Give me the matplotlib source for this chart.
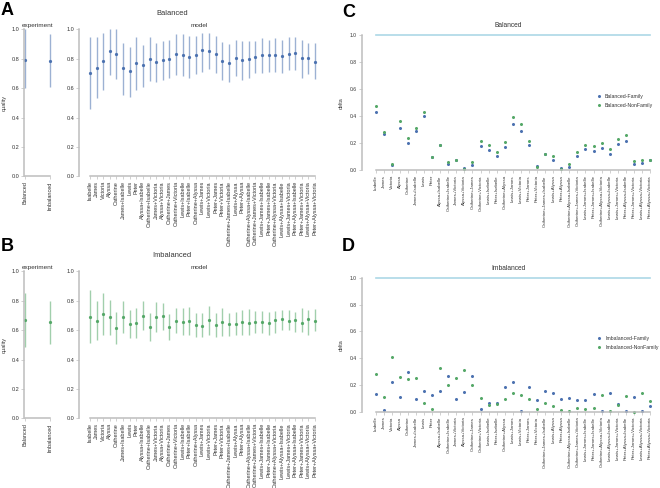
import matplotlib
matplotlib.use('Agg')
import matplotlib.pyplot as plt
import numpy as np

plt.rcParams['font.family'] = ['Liberation Sans', 'DejaVu Sans']

# категории модели (35 сочетаний)
combos = ['Isabelle', 'James', 'Victoria', 'Alyssa', 'Catherine', 'James+Isabelle', 'Lewis', 'Peter',
          'Alyssa+Isabelle', 'Catherine+Isabelle', 'James+Victoria', 'Alyssa+Victoria', 'Catherine+James',
          'Catherine+Victoria', 'Lewis+Isabelle', 'Peter+Isabelle', 'Catherine+Alyssa', 'Lewis+James',
          'Lewis+Victoria', 'Peter+James', 'Peter+Victoria', 'Catherine+James+Isabelle', 'Lewis+Alyssa',
          'Peter+Alyssa', 'Catherine+Alyssa+Isabelle', 'Catherine+James+Victoria', 'Lewis+James+Isabelle',
          'Peter+James+Isabelle', 'Catherine+Alyssa+Victoria', 'Lewis+Alyssa+Isabelle', 'Lewis+James+Victoria',
          'Peter+Alyssa+Isabelle', 'Peter+James+Victoria', 'Lewis+Alyssa+Victoria', 'Peter+Alyssa+Victoria']
exp_groups = ['Balanced', 'Imbalanced']

# эксперимент: среднее, нижняя и верхняя граница
exp_bal_mean = [0.790, 0.787]
exp_bal_lo = [0.600, 0.610]
exp_bal_hi = [1.000, 0.968]
exp_imb_mean = [0.668, 0.652]
exp_imb_lo = [0.488, 0.505]
exp_imb_hi = [0.850, 0.800]

# модель, Balanced
bal_mean = [0.705, 0.736, 0.782, 0.855, 0.834, 0.734, 0.716, 0.773, 0.757, 0.800, 0.777, 0.789,
            0.800, 0.830, 0.823, 0.814, 0.827, 0.859, 0.850, 0.830, 0.784, 0.770, 0.807, 0.789,
            0.798, 0.814, 0.823, 0.823, 0.827, 0.818, 0.834, 0.836, 0.802, 0.802, 0.777]
bal_lo = [0.46, 0.53, 0.59, 0.69, 0.66, 0.55, 0.54, 0.59, 0.61, 0.65, 0.64, 0.655,
          0.67, 0.686, 0.68, 0.67, 0.695, 0.71, 0.727, 0.70, 0.655, 0.64, 0.68, 0.655,
          0.67, 0.70, 0.70, 0.71, 0.71, 0.70, 0.72, 0.72, 0.67, 0.695, 0.66]
bal_hi = [0.945, 0.945, 0.973, 1.0, 1.0, 0.91, 0.88, 0.945, 0.89, 0.95, 0.91, 0.92,
          0.93, 0.97, 0.97, 0.955, 0.955, 0.977, 0.977, 0.955, 0.916, 0.90, 0.93, 0.92,
          0.92, 0.92, 0.94, 0.93, 0.94, 0.93, 0.945, 0.945, 0.93, 0.91, 0.905]

# модель, Imbalanced
imb_mean = [0.691, 0.664, 0.709, 0.691, 0.614, 0.686, 0.641, 0.648, 0.698, 0.620, 0.686, 0.695,
            0.620, 0.664, 0.657, 0.659, 0.636, 0.630, 0.668, 0.634, 0.655, 0.641, 0.643, 0.652,
            0.650, 0.655, 0.652, 0.648, 0.666, 0.673, 0.659, 0.668, 0.650, 0.673, 0.661]
imb_lo = [0.514, 0.536, 0.566, 0.566, 0.505, 0.577, 0.543, 0.543, 0.600, 0.527, 0.586, 0.600,
          0.536, 0.582, 0.564, 0.564, 0.555, 0.550, 0.566, 0.555, 0.559, 0.559, 0.564, 0.570,
          0.564, 0.582, 0.582, 0.568, 0.582, 0.600, 0.600, 0.589, 0.589, 0.568, 0.593]
imb_hi = [0.873, 0.800, 0.855, 0.805, 0.723, 0.795, 0.736, 0.748, 0.795, 0.714, 0.789, 0.786,
          0.709, 0.748, 0.748, 0.757, 0.718, 0.714, 0.764, 0.718, 0.748, 0.718, 0.725, 0.736,
          0.741, 0.732, 0.732, 0.725, 0.732, 0.736, 0.736, 0.725, 0.748, 0.736, 0.745]

# delta, Balanced
bal_family = [0.434, 0.265, 0.04, 0.316, 0.20, 0.294, 0.40, 0.10, 0.19, 0.044, 0.079, 0.02,
              0.042, 0.18, 0.15, 0.109, 0.175, 0.343, 0.294, 0.185, 0.035, 0.12, 0.079, 0.017,
              0.027, 0.106, 0.156, 0.146, 0.165, 0.123, 0.198, 0.22, 0.05, 0.054, 0.074]
bal_nonfamily = [0.476, 0.28, 0.05, 0.365, 0.242, 0.316, 0.43, 0.10, 0.19, 0.064, 0.079, 0.012,
                 0.062, 0.217, 0.185, 0.138, 0.212, 0.397, 0.343, 0.22, 0.025, 0.12, 0.106, 0.007,
                 0.05, 0.136, 0.19, 0.18, 0.20, 0.156, 0.235, 0.262, 0.072, 0.077, 0.077]

# delta, Imbalanced
imb_family = [0.13, 0.015, 0.225, 0.108, 0.30, 0.095, 0.158, 0.125, 0.158, 0.268, 0.095, 0.148,
              0.268, 0.02, 0.068, 0.063, 0.185, 0.22, 0.008, 0.185, 0.088, 0.158, 0.14, 0.093,
              0.10, 0.085, 0.09, 0.133, 0.008, 0.14, 0.06, 0.008, 0.108, 0.008, 0.04]
imb_nonfamily = [0.285, 0.113, 0.41, 0.262, 0.243, 0.253, 0.063, 0.022, 0.325, 0.198, 0.25, 0.315,
                 0.20, 0.105, 0.053, 0.058, 0.095, 0.143, 0.123, 0.098, 0.022, 0.065, 0.045, 0.015,
                 0.008, 0.025, 0.018, 0.03, 0.123, 0.008, 0.053, 0.12, 0.0, 0.143, 0.08]

W, H = 660, 488
SPINE = '#bdbdbd'
TEXT = '#333333'
BLUE = '#4c72b0'
GREEN = '#55a868'


def px_axes(fig, x0, x1, ytop, ybot):
    # оси по пиксельным координатам картинки
    return fig.add_axes([x0 / W, 1 - ybot / H, (x1 - x0) / W, (ybot - ytop) / H])


def style_axes(ax, n, xsize, ysize):
    for s in ['top', 'right']:
        ax.spines[s].set_visible(False)
    for s in ['left', 'bottom']:
        ax.spines[s].set_color(SPINE)
        ax.spines[s].set_linewidth(1.1)
    ax.spines['left'].set_bounds(0, 1)
    ax.spines['bottom'].set_bounds(0, n - 1)
    ax.set_ylim(0, 1)
    ax.set_yticks(np.arange(0, 1.01, 0.2))
    ax.set_yticklabels([f'{v:.1f}' for v in np.arange(0, 1.01, 0.2)])
    ax.tick_params(length=2, width=0.5, colors=SPINE, labelcolor=TEXT, pad=1.5)
    ax.tick_params(axis='x', labelrotation=90, labelsize=xsize)
    ax.tick_params(axis='y', labelsize=ysize)


def quality_panel(fig, ytop, ybot, title, exp_m, exp_lo, exp_hi, m, lo, hi, color):
    ax_e = px_axes(fig, 24, 52, ytop, ybot)
    xe = np.arange(len(exp_groups))
    ax_e.vlines(xe, exp_lo, exp_hi, color=color, alpha=0.55, lw=1.0, clip_on=False)
    ax_e.plot(xe, exp_m, 'o', ms=1.3, color=color, clip_on=False)
    ax_e.set_xlim(-0.04, 1.08)
    ax_e.set_xticks(xe)
    ax_e.set_xticklabels(exp_groups)
    style_axes(ax_e, len(exp_groups), 4, 4)
    ax_e.set_ylabel('quality', fontsize=4, color=TEXT, labelpad=3)
    ax_e.set_title('experiment', fontsize=4.6, color=TEXT, pad=1.5)

    ax_m = px_axes(fig, 79, 320, ytop, ybot)
    xm = np.arange(len(combos))
    ax_m.vlines(xm, lo, hi, color=color, alpha=0.55, lw=1.0, clip_on=False)
    ax_m.plot(xm, m, 'o', ms=1.3, color=color, clip_on=False)
    ax_m.set_xlim(-1.66, 34.76)
    ax_m.set_xticks(xm)
    ax_m.set_xticklabels(combos)
    style_axes(ax_m, len(combos), 4, 4)
    ax_m.set_title('model', fontsize=4.6, color=TEXT, pad=1.5)

    fig.text(172 / W, 1 - (ytop - 16) / H, title, ha='center', va='center', fontsize=5.4, color=TEXT)


def delta_panel(fig, ytop, ybot, title, fam, nonfam, label):
    ax = px_axes(fig, 361.7, 655, ytop, ybot)
    x = np.arange(len(combos))
    ax.plot([x[0], x[-1]], [1, 1], color='#add8e6', lw=1.2, clip_on=False)
    ax.plot(x, fam, 'o', ms=1.2, color=BLUE, label=f'{label}-Family', clip_on=False)
    ax.plot(x, nonfam, 'o', ms=1.2, color=GREEN, label=f'{label}-NonFamily', clip_on=False)
    ax.set_xlim(-1.73, 34.62)
    ax.set_xticks(x)
    ax.set_xticklabels(combos)
    style_axes(ax, len(combos), 3.2, 3.6)
    ax.set_ylabel('delta', fontsize=3.9, color=TEXT, labelpad=4)
    ax.set_title(title, fontsize=4.8, color=TEXT, pad=6)
    ax.legend(loc='upper left', bbox_to_anchor=(0.8, 0.565), frameon=False, fontsize=3.7,
              handlelength=1.2, handletextpad=0.5, borderpad=0, borderaxespad=0, labelspacing=0.8,
              labelcolor=TEXT)


fig = plt.figure(figsize=(W / 100, H / 100), dpi=100)

quality_panel(fig, 29.3, 176.3, 'Balanced', exp_bal_mean, exp_bal_lo, exp_bal_hi,
              bal_mean, bal_lo, bal_hi, BLUE)
quality_panel(fig, 271.3, 418.3, 'Imbalanced', exp_imb_mean, exp_imb_lo, exp_imb_hi,
              imb_mean, imb_lo, imb_hi, GREEN)
delta_panel(fig, 35, 170.3, 'Balanced', bal_family, bal_nonfamily, 'Balanced')
delta_panel(fig, 278, 411.7, 'Imbalanced', imb_family, imb_nonfamily, 'Imbalanced')

for letter, x, y in [('A', 1, 2), ('B', 1, 238), ('C', 342, 4), ('D', 342, 238)]:
    fig.text(x / W, 1 - y / H, letter, fontsize=13, fontweight='bold', va='top', ha='left')

plt.savefig('out.png', dpi=100)
plt.close()
